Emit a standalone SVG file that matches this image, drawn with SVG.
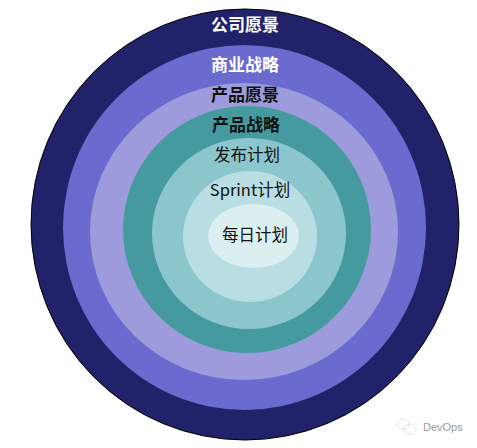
<svg xmlns="http://www.w3.org/2000/svg" width="477" height="448" viewBox="0 0 477 448">
<style>
.t{font-family:"Noto Sans CJK SC","Noto Sans",sans-serif;text-anchor:middle;font-size:16.5px;fill:#111}
.b{font-weight:bold;font-size:17px}
.w{fill:#fff}
</style>
<rect width="477" height="448" fill="#fff"/>
<g id="company-vision"><ellipse cx="245" cy="224.5" rx="214" ry="215.5" fill="#22226A" stroke="#000" stroke-width="1"/><text class="t b w" x="245" y="31">公司愿景</text></g>
<g id="business-strategy"><ellipse cx="244.5" cy="227.5" rx="181.5" ry="182.5" fill="#6B6BCF"/><text class="t b w" x="245" y="71">商业战略</text></g>
<g id="product-vision"><ellipse cx="244" cy="231.5" rx="154" ry="148.5" fill="#9E9BDC"/><text class="t b" x="245" y="101">产品愿景</text></g>
<g id="product-strategy"><ellipse cx="247" cy="229.5" rx="124" ry="123.5" fill="#459A9F"/><text class="t b" x="246" y="131">产品战略</text></g>
<g id="release-plan"><ellipse cx="249" cy="233.5" rx="97" ry="95.5" fill="#8BC6CD"/><text class="t" x="247" y="161">发布计划</text></g>
<g id="sprint-plan"><ellipse cx="250" cy="236.5" rx="67" ry="65.5" fill="#B8DDE2"/><text class="t" x="250" y="196">Sprint计划</text></g>
<g id="daily-plan"><ellipse cx="253.5" cy="236" rx="45.5" ry="32" fill="#DCEFF0"/><text class="t" x="255" y="241">每日计划</text></g>
<g id="connectors"/>
<g id="watermark" fill="none" stroke="#bbb" stroke-width="0.8" stroke-dasharray="1 1">
<ellipse cx="403" cy="424" rx="6" ry="5"/>
<ellipse cx="410" cy="429" rx="6" ry="5"/>
<text x="423" y="431" font-family="'Liberation Sans',sans-serif" font-size="11" fill="#999" stroke="none">DevOps</text>
</g>
</svg>
